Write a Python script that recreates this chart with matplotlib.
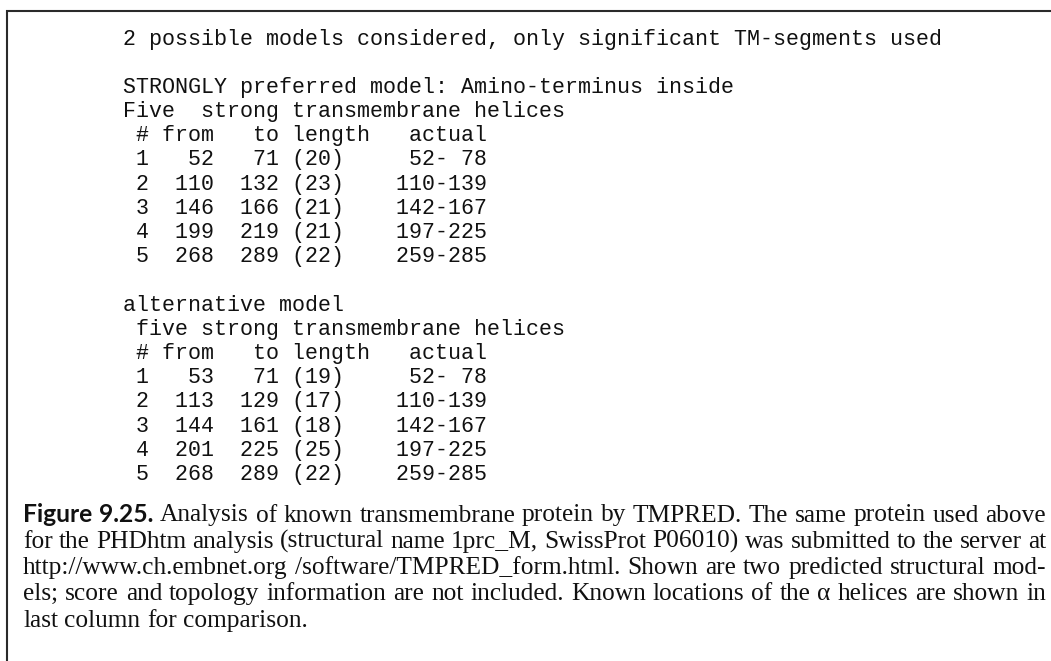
import matplotlib
matplotlib.use("Agg")
import matplotlib.pyplot as plt

# TMPRED output (monospace block)
header = "2 possible models considered, only significant TM-segments used"
model1_title = ["STRONGLY preferred model: Amino-terminus inside",
                "Five  strong transmembrane helices"]
model2_title = ["alternative model",
                " five strong transmembrane helices"]
col_header = " # from   to length   actual"

helix_no = [1, 2, 3, 4, 5]
m1_from = [52, 110, 146, 199, 268]
m1_to = [71, 132, 166, 219, 289]
m1_len = [20, 23, 21, 21, 22]
m2_from = [53, 113, 144, 201, 268]
m2_to = [71, 129, 161, 225, 289]
m2_len = [19, 17, 18, 25, 22]
actual_from = [52, 110, 142, 197, 259]
actual_to = [78, 139, 167, 225, 285]

# caption
caption_label = "Figure 9.25."
caption_lines = [
    "Analysis of known transmembrane protein by TMPRED. The same protein used above",
    "for the PHDhtm analysis (structural name 1prc_M, SwissProt P06010) was submitted to the server at",
    "http://www.ch.embnet.org /software/TMPRED_form.html. Shown are two predicted structural mod-",
    "els; score and topology information are not included. Known locations of the \u03b1 helices are shown in",
    "last column for comparison.",
]


def helix_rows(frm, to, ln):
    rows = []
    for n, a, b, l, af, at in zip(helix_no, frm, to, ln, actual_from, actual_to):
        rows.append(f"{n:2d}{a:5d}{b:5d} ({l:2d})    {af:3d}-{at:3d}")
    return rows


fig = plt.figure(figsize=(10.51, 6.61), dpi=100)
ax = fig.add_axes([0, 0, 1, 1])
ax.set_xlim(0, 1051)
ax.set_ylim(661, 0)
ax.axis("off")

# frame: top rule and left rule
ax.plot([7, 7, 1051], [661, 11, 11], color="#2a2a2a", lw=1.5,
        solid_joinstyle="miter", solid_capstyle="butt")

# monospace listing
lines = ([header, ""] + model1_title + [col_header] + helix_rows(m1_from, m1_to, m1_len)
         + [""] + model2_title + [col_header] + helix_rows(m2_from, m2_to, m2_len))
for i, s in enumerate(lines):
    ax.text(123, 44.5 + 24.2 * i, s, family="Liberation Mono", fontsize=15.6,
            va="baseline", ha="left", color="#111111")

# caption, justified like the book page
renderer = fig.canvas.get_renderer()


def text_width(s, **kw):
    t = ax.text(0, 0, s, **kw)
    w = t.get_window_extent(renderer).width
    t.remove()
    return w


serif = dict(family="Liberation Serif", color="#111111")
size = 20 * 285 / text_width(caption_lines[-1], fontsize=20, **serif)
serif["fontsize"] = size
bold = dict(family="Lato", fontweight="bold", fontsize=size * 0.97, color="#111111")

x0, x1 = 23, 1046
for i, line in enumerate(caption_lines):
    y = 521.5 + 26.3 * i
    tokens = [(w, serif) for w in line.split(" ")]
    if i == 0:
        tokens = [(w, bold) for w in caption_label.split(" ")] + tokens
    widths = [text_width(w, **p) for w, p in tokens]
    if i < len(caption_lines) - 1:
        gap = (x1 - x0 - sum(widths)) / (len(tokens) - 1)
    else:
        gap = text_width("a b", **serif) - text_width("ab", **serif)
    x = x0
    for (w, p), wd in zip(tokens, widths):
        ax.text(x, y, w, va="baseline", ha="left", **p)
        x += wd + gap

fig.savefig("out.png", dpi=100)
